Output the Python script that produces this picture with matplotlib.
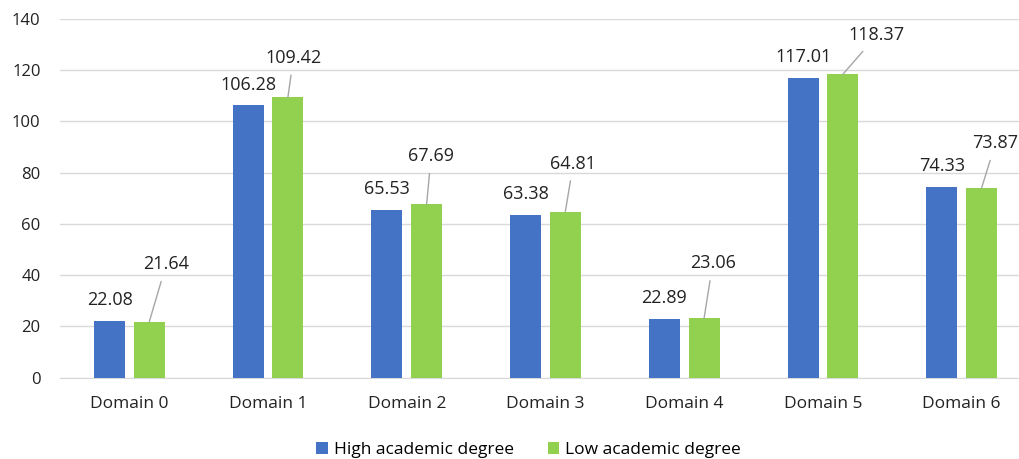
import numpy as np
import matplotlib.pyplot as plt

plt.rcParams['font.family'] = ['Open Sans', 'DejaVu Sans']

# Data
domains = ['Domain 0', 'Domain 1', 'Domain 2', 'Domain 3', 'Domain 4', 'Domain 5', 'Domain 6']
high_degree = [22.08, 106.28, 65.53, 63.38, 22.89, 117.01, 74.33]
low_degree = [21.64, 109.42, 67.69, 64.81, 23.06, 118.37, 73.87]

# where the green labels were dragged to (pixels right / up from the bar top)
label_dx = [17, 5.5, 4.5, 8, 8.7, 34, 14]
label_dy = [57.7, 39.5, 48, 48, 55, 39, 45]

blue = '#4472C4'
green = '#92D050'

fig = plt.figure(figsize=(10.2, 4.59), dpi=100)
# plot area runs a bit past the right edge, like the original
ax = fig.add_axes([60 / 1020, 81.5 / 459, 971 / 1020, 358.5 / 459])

x = np.arange(len(domains))
w = 0.224
off = 0.143

ax.bar(x - off, high_degree, w, color=blue, label='High academic degree', zorder=3)
ax.bar(x + off, low_degree, w, color=green, label='Low academic degree', zorder=3)

for xi, v in zip(x, high_degree):
    ax.annotate(f'{v:.2f}', (xi - off, v), xytext=(0, 15), textcoords='offset points',
                ha='center', va='center', fontsize=13, color='#222222')

for xi, v, dx, dy in zip(x, low_degree, label_dx, label_dy):
    ax.annotate(f'{v:.2f}', (xi + off, v), xytext=(dx * 0.72, dy * 0.72), textcoords='offset points',
                ha='center', va='center', fontsize=13, color='#222222',
                arrowprops=dict(arrowstyle='-', color='#A6A6A6', lw=1, shrinkA=4, shrinkB=0))

ax.set_ylim(0, 140)
ax.set_yticks(np.arange(0, 141, 20))
ax.set_xlim(-0.5, len(domains) - 0.5)
ax.set_xticks(x)
ax.set_xticklabels(domains)
ax.tick_params(axis='both', length=0, labelsize=12, colors='#222222')
ax.tick_params(axis='x', pad=13, labelsize=12.5)
ax.tick_params(axis='y', pad=14)
ax.grid(axis='y', color='#D9D9D9', lw=1, zorder=0)
for s in ['top', 'right', 'left']:
    ax.spines[s].set_visible(False)
ax.spines['bottom'].set_color('#D9D9D9')

fig.legend(loc='center', bbox_to_anchor=(528.5 / 1020, 1 - 450 / 459), ncol=2, frameon=False,
           fontsize=12.5, handlelength=0.67, handleheight=0.67, columnspacing=1.96,
           handletextpad=0.35)

fig.savefig('out.png', dpi=100)
